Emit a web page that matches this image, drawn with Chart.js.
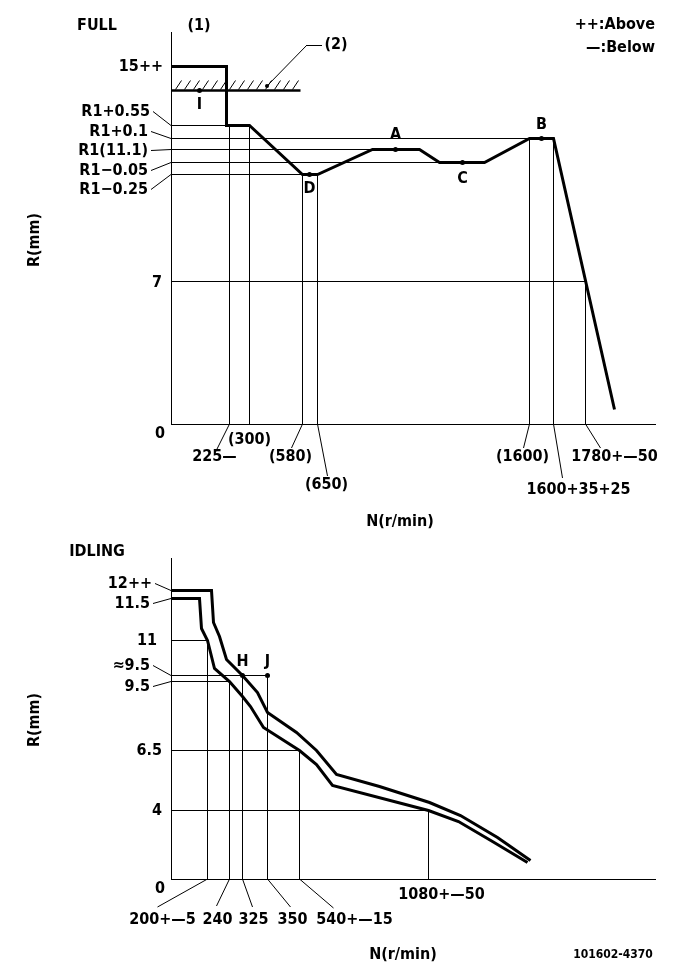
<!DOCTYPE html>
<html>
<head>
<meta charset="utf-8">
<script src="https://cdn.jsdelivr.net/npm/chart.js@4"></script>
<style>
    body { margin: 0; background: #fff; }
    #wrap { position: relative; width: 681px; height: 979px; }
    canvas { position: absolute; left: 0; }
</style>
</head>
<body>
<div id="wrap">
    <canvas id="full" width="681" height="530" style="top:0"></canvas>
    <canvas id="idle" width="681" height="449" style="top:530px"></canvas>
</div>
<script>
/* -----------------------------------------
   FULL data (N = r/min, R = mm)
----------------------------------------- */
const fullCurveN = [0, 217, 217, 300, 580, 650, 900, 1110, 1200, 1400, 1600, 1660, 1890];
const fullCurveR = [15, 15, 11.65, 11.65, 10.85, 10.85, 11.1, 11.1, 11.05, 11.05, 11.2, 11.2, 0.7];

const fullStopN = [0, 570];
const fullStopR = 13.6;

const fullPointNames = ["I", "A", "C", "D", "B"];
const fullPointN = [112, 1000, 1300, 615, 1630];
const fullPointR = [13.6, 11.1, 11.05, 10.85, 11.2];

const fullTickN = [225, 300, 580, 650, 1600, 1660, 1780];
const fullTickLabels = ["225—", "(300)", "(580)", "(650)", "(1600)", "1600+35+25", "1780+—50"];
const fullTickFromR = [11.65, 11.65, 10.85, 10.85, 11.2, 11.2, 7];

const fullLevelR = [15, 11.65, 11.2, 11.1, 11.05, 10.85, 7, 0];
const fullLevelLabels = ["15++", "R1+0.55", "R1+0.1", "R1(11.1)", "R1−0.05", "R1−0.25", "7", "0"];
const fullLevelToN = [0, 217, 1600, 900, 1200, 580, 1780, 0];

/* -----------------------------------------
   IDLING data
----------------------------------------- */
const idleUpperN = [0, 209, 211, 222, 236, 325, 340, 350, 528, 615, 699, 879, 1088, 1214, 1369, 1507];
const idleUpperR = [12, 12, 11.21, 11.04, 10.23, 9.65, 8.98, 8.11, 7.24, 6.5, 5.46, 4.96, 4.33, 3.71, 2.43, 1.1];
const idleLowerN = [0, 156, 172, 200, 213, 240, 325, 333, 346, 540, 615, 682, 1080, 1206, 1352, 1498];
const idleLowerR = [11.5, 11.5, 11.14, 11, 9.92, 9.5, 8.81, 8.37, 7.46, 6.5, 5.88, 5.04, 4, 3.31, 2.15, 0.93];

const idlePointNames = ["H", "J"];
const idlePointN = [325, 350];
const idlePointR = [9.65, 9.65];

const idleTickN = [200, 240, 325, 350, 540, 1080];
const idleTickLabels = ["200+—5", "240", "325", "350", "540+—15", "1080+—50"];
const idleTickFromR = [11, 9.5, 9.65, 9.65, 6.5, 4];

const idleLevelR = [12, 11.5, 11, 9.65, 9.5, 6.5, 4, 0];
const idleLevelLabels = ["12++", "11.5", "11", "≈9.5", "9.5", "6.5", "4", "0"];
const idleLevelToN = [0, 0, 200, 350, 240, 540, 1080, 0];

/* -----------------------------------------
   layout: the drawing is not to scale, so each axis is
   piecewise linear. [value, page pixel]
----------------------------------------- */
const axisKnots = {
    full: {
        x: [[0, 171], [225, 229], [300, 249], [580, 302], [650, 317], [1600, 529], [1660, 553], [1780, 585], [2040, 655]],
        y: [[0, 424], [7, 281], [10.85, 174], [11.05, 162], [11.1, 149], [11.2, 138], [11.65, 125], [15, 66], [16.6, 32]]
    },
    idle: {
        x: [[0, 171], [200, 207], [240, 229], [325, 242], [350, 267], [540, 299], [1080, 428], [2030, 655]],
        y: [[0, 879], [4, 810], [6.5, 750], [9.5, 681], [9.65, 675], [11, 640], [11.5, 598], [12, 590], [14, 558]]
    }
};

// label placement: [right edge x, dy from level, leader?]
const fullLevelPos = [[163, 0, 0], [150, -14, 1], [148, -7, 1], [148, 1, 1], [148, 8, 1], [148, 15, 1], [162, 1, 0], [165, 9, 0]];
const idleLevelPos = [[152, -7, 1], [150, 5, 1], [157, 0, 0], [150, -10, 1], [150, 5, 1], [162, 0, 0], [162, 0, 0], [165, 9, 0]];
// [label dx, label dy, leader dx, leader dy] from tick foot on the axis
const fullTickPos = [[-15, 33, -14, 28], [0, 16, 0, 0], [-12, 33, -11, 24], [9, 61, 10, 52], [-7, 33, -6, 24], [25, 66, 9, 54], [29, 33, 15, 24]];
const idleTickPos = [[-45, 41, -50, 28], [-12, 41, -13, 27], [11, 41, 10, 28], [25, 41, 23, 28], [55, 41, 34, 29], [13, 16, 0, 0]];
const fullPointDy = [14, -15, 16, 14, -14];
const idlePointDy = [-14, -14];

const FACE = '"DejaVu Sans Condensed", "DejaVu Sans", sans-serif';

/* -----------------------------------------
   piecewise scale
----------------------------------------- */
function interp(k, v, a, b) {
    if (v <= k[0][a]) return k[0][b];
    for (let i = 0; i < k.length - 1; i++) {
        const lo = k[i], hi = k[i + 1];
        if ((v - lo[a]) * (v - hi[a]) <= 0) {
            return lo[b] + (v - lo[a]) / (hi[a] - lo[a]) * (hi[b] - lo[b]);
        }
    }
    return k[k.length - 1][b];
}

class PiecewiseScale extends Chart.LinearScale {
    static id = "piecewise";
    knots() { return axisKnots[this.chart.canvas.id][this.id]; }
    getPixelForValue(value) {
        if (value === null || value === undefined) return NaN;
        const k = this.knots();
        const p0 = k[0][1], p1 = k[k.length - 1][1];
        const px = this.getPixelForDecimal((interp(k, value, 0, 1) - p0) / (p1 - p0));
        // snap to pixel centres so 1px lines stay crisp
        return Math.round(px - 0.5) + 0.5;
    }
    getValueForPixel(pixel) {
        const k = this.knots();
        const p0 = k[0][1], p1 = k[k.length - 1][1];
        const d = this.getDecimalForPixel(pixel);
        return interp(k, p0 + d * (p1 - p0), 1, 0);
    }
}
Chart.register(PiecewiseScale);

/* -----------------------------------------
   helpers
----------------------------------------- */
function text(ctx, s, x, y, align, size) {
    ctx.font = "bold " + (size || 16) + "px " + FACE;
    ctx.textAlign = align || "center";
    ctx.textBaseline = "middle";
    ctx.fillStyle = "#000";
    ctx.fillText(s, x, y);
}

function line(ctx, x1, y1, x2, y2, w) {
    ctx.beginPath();
    ctx.lineWidth = w || 1;
    ctx.strokeStyle = "#000";
    ctx.moveTo(x1, y1);
    ctx.lineTo(x2, y2);
    ctx.stroke();
}

function segment(x1, y1, x2, y2, width) {
    return {
        data: [{ x: x1, y: y1 }, { x: x2, y: y2 }],
        borderColor: "#000", borderWidth: width || 1,
        pointRadius: 0, tension: 0
    };
}

function buildDatasets(curves, levelR, levelToN, tickN, tickFromR, pointN, pointR) {
    const sets = [];
    curves.forEach(c => sets.push({
        data: c[0].map((n, i) => ({ x: n, y: c[1][i] })),
        borderColor: "#000", borderWidth: 3, pointRadius: 0,
        tension: 0, borderJoinStyle: "miter"
    }));
    levelR.forEach((r, i) => {
        if (levelToN[i] > 0) sets.push(segment(0, r, levelToN[i], r));
    });
    tickN.forEach((n, i) => sets.push(segment(n, tickFromR[i], n, 0)));
    sets.push({
        data: pointN.map((n, i) => ({ x: n, y: pointR[i] })),
        showLine: false, pointRadius: 2.5,
        pointBackgroundColor: "#000", pointBorderWidth: 0
    });
    return sets;
}

// labels, leaders and point names drawn off the scales
function drawAxisText(chart, levelR, levelLabels, levelPos, tickN, tickLabels, tickPos, pointNames, pointN, pointR, pointDy) {
    const ctx = chart.ctx, xs = chart.scales.x, ys = chart.scales.y;
    const left = chart.chartArea.left, foot = chart.chartArea.bottom;

    levelR.forEach((r, i) => {
        const py = ys.getPixelForValue(r);
        const p = levelPos[i];
        text(ctx, levelLabels[i], p[0], py + p[1], "right");
        if (p[2]) line(ctx, p[0] + 3, py + p[1], left, py);
    });

    tickN.forEach((n, i) => {
        const px = xs.getPixelForValue(n);
        const p = tickPos[i];
        if (p[3]) line(ctx, px, foot, px + p[2], foot + p[3]);
        text(ctx, tickLabels[i], px + p[0], foot + p[1]);
    });

    pointNames.forEach((s, i) => {
        text(ctx, s, xs.getPixelForValue(pointN[i]), ys.getPixelForValue(pointR[i]) + pointDy[i]);
    });
}

function rotated(ctx, s, x, y) {
    ctx.save();
    ctx.translate(x, y);
    ctx.rotate(-Math.PI / 2);
    text(ctx, s, 0, 0);
    ctx.restore();
}

/* -----------------------------------------
   plugins
----------------------------------------- */
const fullText = {
    id: "fullText",
    afterDraw(chart) {
        const ctx = chart.ctx, xs = chart.scales.x, ys = chart.scales.y;
        drawAxisText(chart, fullLevelR, fullLevelLabels, fullLevelPos, fullTickN, fullTickLabels, fullTickPos,
            fullPointNames, fullPointN, fullPointR, fullPointDy);

        // hatching on the stopper line
        const sy = ys.getPixelForValue(fullStopR);
        const sx0 = xs.getPixelForValue(fullStopN[0]), sx1 = xs.getPixelForValue(fullStopN[1]);
        for (let x = sx0 + 4; x + 7 <= sx1; x += 9) line(ctx, x, sy - 1, x + 6, sy - 10);

        // (2) leader
        line(ctx, 267, 86, 307, 45);
        line(ctx, 307, 45.5, 322, 45.5);
        ctx.beginPath();
        ctx.arc(267, 86, 2, 0, Math.PI * 2);
        ctx.fill();

        text(ctx, "FULL", 97, 26);
        text(ctx, "(1)", 199, 26);
        text(ctx, "(2)", 336, 45);
        text(ctx, "++:Above", 655, 25, "right");
        text(ctx, "—:Below", 655, 48, "right");
        rotated(ctx, "R(mm)", 35, 240);
        text(ctx, "N(r/min)", 400, 522);
    }
};

const idleText = {
    id: "idleText",
    afterDraw(chart) {
        const ctx = chart.ctx;
        drawAxisText(chart, idleLevelR, idleLevelLabels, idleLevelPos, idleTickN, idleTickLabels, idleTickPos,
            idlePointNames, idlePointN, idlePointR, idlePointDy);

        text(ctx, "IDLING", 97, 22);
        rotated(ctx, "R(mm)", 35, 190);
        text(ctx, "N(r/min)", 403, 425);
        text(ctx, "101602-4370", 613, 425, "center", 12);
    }
};

/* -----------------------------------------
   charts
----------------------------------------- */
function axisOpts(id, ax) {
    const k = axisKnots[id][ax];
    return {
        type: "piecewise",
        min: k[0][0], max: k[k.length - 1][0],
        grid: { display: false, drawTicks: false },
        border: { display: true, color: "#000", width: 1 },
        ticks: { display: false }
    };
}

function makeChart(id, datasets, pad, plugin) {
    return new Chart(document.getElementById(id), {
        type: "line",
        data: { datasets: datasets },
        options: {
            responsive: false,
            animation: false,
            devicePixelRatio: 1,
            events: [],
            layout: { padding: pad },
            plugins: { legend: { display: false }, tooltip: { enabled: false } },
            scales: { x: axisOpts(id, "x"), y: axisOpts(id, "y") }
        },
        plugins: [plugin]
    });
}

const fullSets = buildDatasets([[fullCurveN, fullCurveR]], fullLevelR, fullLevelToN,
    fullTickN, fullTickFromR, fullPointN, fullPointR);
fullSets.push(segment(fullStopN[0], fullStopR, fullStopN[1], fullStopR, 2.5));

const idleSets = buildDatasets([[idleUpperN, idleUpperR], [idleLowerN, idleLowerR]], idleLevelR, idleLevelToN,
    idleTickN, idleTickFromR, idlePointN, idlePointR);

makeChart("full", fullSets, { left: 171, right: 26, top: 32, bottom: 106 }, fullText);
makeChart("idle", idleSets, { left: 171, right: 26, top: 28, bottom: 100 }, idleText);
</script>
</body>
</html>
